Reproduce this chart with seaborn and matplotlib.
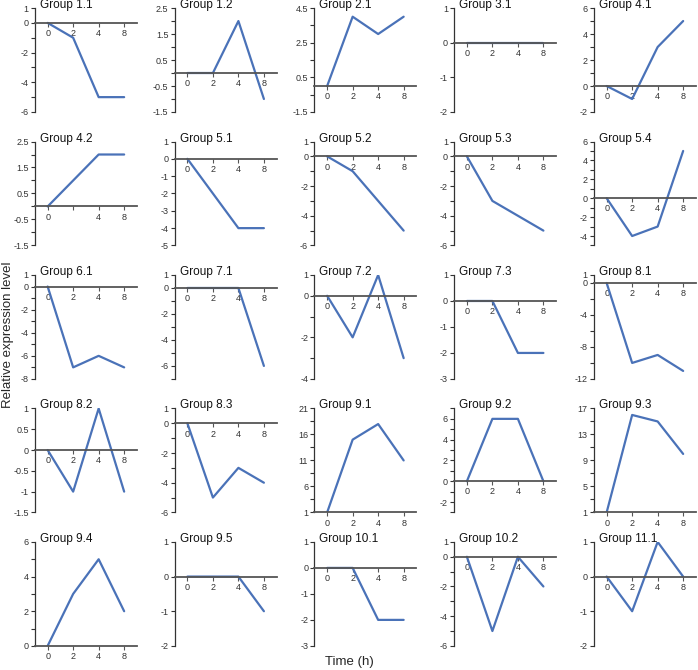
import seaborn as sns
import matplotlib.pyplot as plt
from matplotlib.ticker import FixedLocator

# time points (drawn equally spaced)
time_labels = ['0', '2', '4', '8']

groups = ['Group 1.1', 'Group 1.2', 'Group 2.1', 'Group 3.1', 'Group 4.1',
          'Group 4.2', 'Group 5.1', 'Group 5.2', 'Group 5.3', 'Group 5.4',
          'Group 6.1', 'Group 7.1', 'Group 7.2', 'Group 7.3', 'Group 8.1',
          'Group 8.2', 'Group 8.3', 'Group 9.1', 'Group 9.2', 'Group 9.3',
          'Group 9.4', 'Group 9.5', 'Group 10.1', 'Group 10.2', 'Group 11.1']

values = [
    [0, -1, -5, -5], [0, 0, 2, -1], [0, 4, 3, 4], [0, 0, 0, 0], [0, -1, 3, 5],
    [0, 1, 2, 2], [0, -2, -4, -4], [0, -1, -3, -5], [0, -3, -4, -5], [0, -4, -3, 5],
    [0, -7, -6, -7], [0, 0, 0, -6], [0, -2, 1, -3], [0, 0, -2, -2], [0, -10, -9, -11],
    [0, -1, 1, -1], [0, -5, -3, -4], [1, 15, 18, 11], [0, 6, 6, 0], [1, 16, 15, 10],
    [0, 3, 5, 2], [0, 0, 0, -1], [0, 0, -2, -2], [0, -5, 0, -2], [0, -1, 1, 0],
]

y_limits = [
    (-6, 1), (-1.5, 2.5), (-1.5, 4.5), (-2, 1), (-2, 6),
    (-1.5, 2.5), (-5, 1), (-6, 1), (-6, 1), (-5, 6),
    (-8, 1), (-7, 1), (-4, 1), (-3, 1), (-12, 1),
    (-1.5, 1), (-6, 1), (1, 21), (-3, 7), (1, 17),
    (0, 6), (-2, 1), (-3, 1), (-6, 1), (-2, 1),
]

y_major = [
    [1, 0, -2, -4, -6], [2.5, 1.5, 0.5, -0.5, -1.5], [4.5, 2.5, 0.5, -1.5], [1, 0, -1, -2], [6, 4, 2, 0, -2],
    [2.5, 1.5, 0.5, -0.5, -1.5], [1, 0, -1, -2, -3, -4, -5], [1, 0, -2, -4, -6], [1, 0, -2, -4, -6], [6, 4, 2, 0, -2, -4],
    [1, 0, -2, -4, -6, -8], [1, 0, -2, -4, -6], [1, 0, -2, -4], [1, 0, -1, -2, -3], [1, 0, -4, -8, -12],
    [1, 0.5, 0, -0.5, -1, -1.5], [1, 0, -2, -4, -6], [21, 16, 11, 6, 1], [6, 4, 2, 0, -2], [17, 13, 9, 5, 1],
    [6, 4, 2, 0], [1, 0, -1, -2], [1, 0, -1, -2, -3], [1, 0, -2, -4, -6], [1, 0, -1, -2],
]

y_minor = [
    [-1, -3, -5], [2, 1, 0, -1], [3.5, 1.5, -0.5], [], [5, 3, 1, -1],
    [2, 1, 0, -1], [], [-1, -3, -5], [-1, -3, -5], [5, 3, 1, -1, -3, -5],
    [-1, -3, -5, -7], [-1, -3, -5, -7], [-1, -3], [], [-2, -6, -10],
    [], [-1, -3, -5], [18.5, 13.5, 8.5, 3.5], [7, 5, 3, 1, -1, -3], [15, 11, 7, 3],
    [5, 3, 1], [], [], [-1, -3, -5], [],
]

sns.set_style('ticks')
plt.rcParams['font.family'] = ['Liberation Sans', 'DejaVu Sans']
plt.rcParams['axes.unicode_minus'] = False

line_color = '#4a72b8'
axis_color = '#555555'

fig, axes = plt.subplots(5, 5, figsize=(6.98, 6.70), dpi=100)
fig.subplots_adjust(left=0.050, right=0.997, top=0.988, bottom=0.036,
                    wspace=0.37, hspace=0.284)

x_idx = list(range(len(time_labels)))

for i, ax in enumerate(axes.flat):
    sns.lineplot(x=x_idx, y=values[i], ax=ax, color=line_color, linewidth=1.6)
    lo, hi = y_limits[i]
    ax.set_xlim(-0.5, 3.5)
    ax.set_ylim(lo, hi)

    ax.spines['top'].set_visible(False)
    ax.spines['right'].set_visible(False)
    ax.spines['left'].set_color('#333333')
    ax.spines['left'].set_linewidth(0.9)
    ax.spines['bottom'].set_color(axis_color)
    ax.spines['bottom'].set_linewidth(1.3)
    ax.spines['bottom'].set_position(('data', max(lo, 0)))

    ax.set_xticks(x_idx)
    labels = list(time_labels)
    if groups[i] == 'Group 4.2':
        labels[1] = ''
    ax.set_xticklabels(labels)

    ax.set_yticks(y_major[i])
    ax.set_yticklabels([f'{v:g}' for v in y_major[i]])
    ax.yaxis.set_minor_locator(FixedLocator(y_minor[i]))

    ax.tick_params(axis='both', which='both', direction='out', length=3,
                   width=0.8, colors='#333333', labelsize=6.5, pad=1.5)
    ax.tick_params(axis='x', color=axis_color)
    ax.set_xlabel('')
    ax.set_ylabel('')

    ax.text(0.05, 1.0, groups[i], transform=ax.transAxes, ha='left',
            va='baseline', fontsize=8.5, color='#111111')

fig.text(0.012, 0.5, 'Relative expression level', rotation=90,
         ha='center', va='center', fontsize=9.5)
fig.text(0.5, 0.012, 'Time (h)', ha='center', va='center', fontsize=9.5)

fig.savefig('out.png', dpi=100)
